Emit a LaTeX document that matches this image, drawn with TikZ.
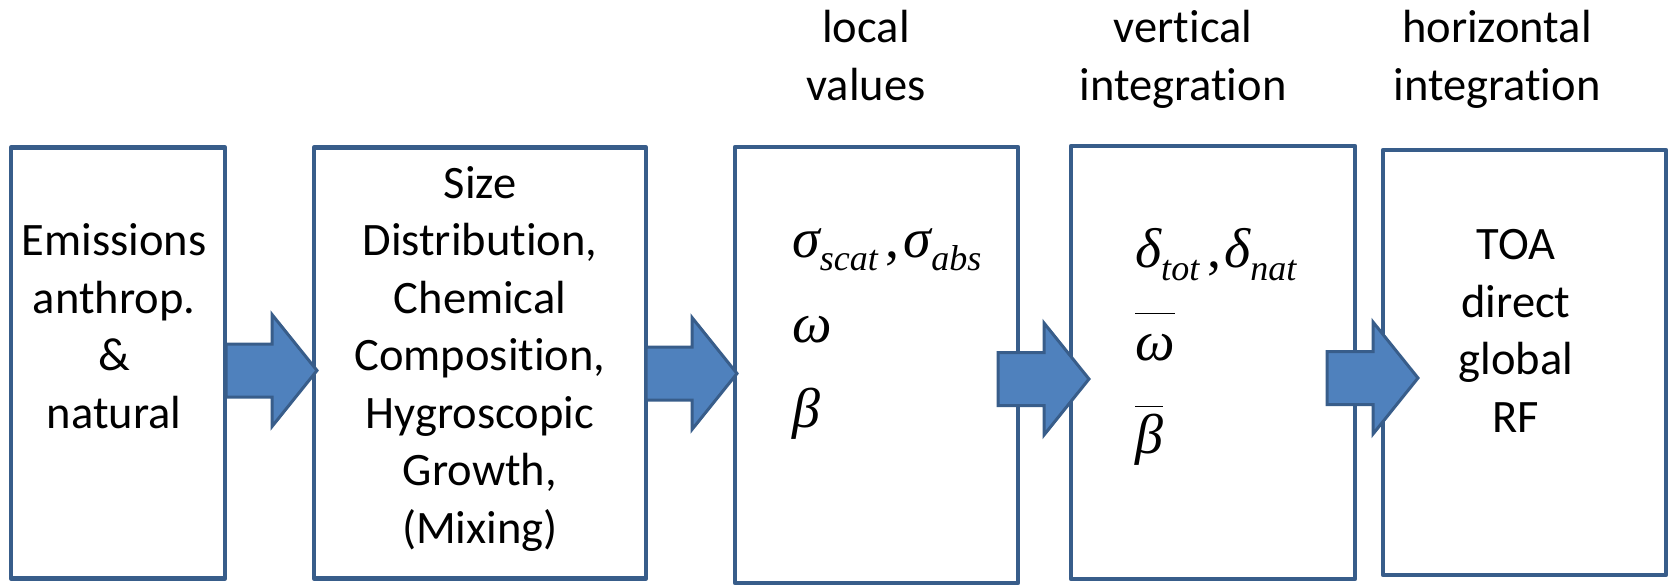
\RequirePackage{fix-cm}
\documentclass[tikz,border=0pt]{standalone}
\usepackage{fontspec}
\setmainfont{Carlito}[Ligatures=NoCommon]
\newfontfamily\tnr{Liberation Serif}
\usepackage{tikz}
\definecolor{boxblue}{RGB}{56,93,138}
\definecolor{arrowblue}{RGB}{79,129,189}
\newcommand{\gsub}[2]{{\itshape #1}\raisebox{-13pt}{\fontsize{36}{36}\selectfont\itshape #2}}
\newcommand{\gbar}[1]{$\overline{\rule{0pt}{45pt}\hbox{\itshape #1}}$}
\tikzset{box/.style={rectangle, draw=boxblue, line width=4.5pt, line join=round, inner sep=0pt, outer sep=0pt},
	txt/.style={align=center, inner sep=0pt, anchor=base, font=\fontsize{46.5}{57.5}\selectfont},
	mth/.style={align=left, inner sep=0pt, anchor=base west},
	fatarrow/.pic={\draw[fill=arrowblue, draw=boxblue, line width=3pt, line join=miter]
		(0,-26.5) -- (46,-26.5) -- (46,-56) -- (91,0) -- (46,56) -- (46,26.5) -- (0,26.5) -- cycle;}}

\begin{document}
\begin{tikzpicture}[x=1pt, y=-1pt]
	\useasboundingbox (0,0) rectangle (1673,584);
	\node[box, minimum width=214pt, minimum height=431pt] (emi) at (118,363) {};
	\node[box, minimum width=332pt, minimum height=431pt] (mic) [right of=emi, node distance=362pt] {};
	\node[box, minimum width=283pt, minimum height=436pt, yshift=-2pt] (loc) [right of=mic, node distance=396.5pt] {};
	\node[box, minimum width=284pt, minimum height=433pt, yshift=2.5pt] (ver) [right of=loc, node distance=336.5pt] {};
	\node[box, minimum width=283pt, minimum height=425pt] (hor) [right of=ver, node distance=311.5pt] {};

	\pic at ([shift={(1,7.5)}]emi.east) {fatarrow};
	\pic at ([shift={(0,10.5)}]mic.east) {fatarrow};
	\pic at ([shift={(-20,14)}]loc.east) {fatarrow};
	\pic at ([shift={(-28,15.5)}]ver.east) {fatarrow};

	\node[txt] (emitxt) at ([shift={(-4,280.5)}]emi.north) {Emissions\\anthrop.\\\&\\natural};
	\node[txt] (mictxt) at ([shift={(0,395.5)}]mic.north) {Size\\Distribution,\\Chemical\\Composition,\\Hygroscopic\\Growth,\\(Mixing)};
	\node[mth, font=\tnr\fontsize{56}{85}\selectfont] (loctxt) at ([shift={(57,280)}]loc.north west)
		{\gsub{σ}{scat}\hspace{8pt},\hspace{4pt}\gsub{σ}{abs}\\{\itshape ω}\\{\itshape β}};
	\node[mth, font=\tnr\fontsize{56}{93}\selectfont] (vertxt) at ([shift={(64,307)}]ver.north west)
		{\gsub{δ}{tot}\hspace{8pt},\hspace{3pt}\gsub{δ}{nat}\\\gbar{ω}\\\gbar{β}};
	\node[txt] (hortxt) at ([shift={(-8.5,282)}]hor.north) {TOA\\direct\\global\\RF};

	\node[txt] (loclab) at ([shift={(-10.5,-47)}]loc.north) {local\\values};
	\node[txt] (verlab) at ([shift={(-30,-46)}]ver.north) {vertical\\integration};
	\node[txt] (horlab) at ([shift={(-27.5,-50)}]hor.north) {horizontal\\integration};
\end{tikzpicture}
\end{document}
